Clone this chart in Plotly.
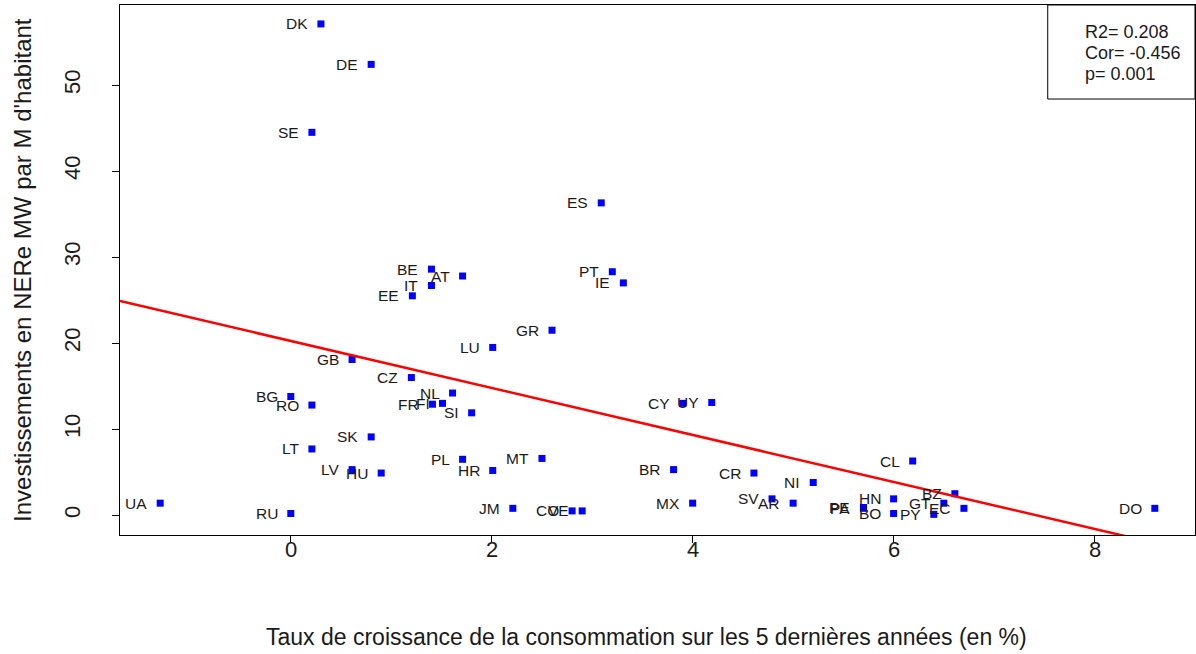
import numpy as np
import plotly.graph_objects as go

# Country codes, 5-year consumption growth (%) and renewable investment (MW per million inhabitants)
pays = ["DK", "DE", "SE", "ES", "BE", "AT", "IT", "EE", "PT", "IE",
        "GR", "LU", "GB", "CZ", "NL", "FR", "FI", "SI", "BG", "RO",
        "CY", "UY", "SK", "LT", "LV", "HU", "PL", "HR", "MT", "BR",
        "CR", "NI", "CL", "UA", "RU", "JM", "CO", "VE", "MX", "SV",
        "AR", "PE", "PA", "HN", "BO", "PY", "GT", "BZ", "EC", "DO"]
croissance = [0.30, 0.80, 0.21, 3.09, 1.40, 1.71, 1.40, 1.21, 3.20, 3.31,
              2.60, 2.01, 0.61, 1.20, 1.61, 1.41, 1.51, 1.80, 0.00, 0.21,
              3.90, 4.19, 0.80, 0.21, 0.61, 0.90, 1.71, 2.01, 2.50, 3.81,
              4.61, 5.20, 6.19, -1.30, 0.00, 2.21, 2.80, 2.90, 4.00, 4.79,
              5.00, 5.70, 5.70, 6.00, 6.00, 6.40, 6.50, 6.61, 6.70, 8.60]
investissement = [57.1, 52.4, 44.5, 36.3, 28.6, 27.8, 26.7, 25.5, 28.3, 27.0,
                  21.5, 19.5, 18.1, 16.0, 14.2, 12.9, 13.0, 11.9, 13.8, 12.8,
                  13.0, 13.1, 9.1, 7.7, 5.3, 4.9, 6.5, 5.2, 6.6, 5.3,
                  4.9, 3.8, 6.3, 1.4, 0.2, 0.8, 0.5, 0.5, 1.4, 1.9,
                  1.4, 0.9, 0.8, 1.9, 0.2, 0.1, 1.4, 2.5, 0.8, 0.8]
x_ticks = [0, 2, 4, 6, 8]
y_ticks = [0, 10, 20, 30, 40, 50]
stats = ["R2= 0.208", "Cor= -0.456", "p= 0.001"]

x_range = [-1.70, 9.0]
y_range = [-2.3, 59.3]

FONT = "Liberation Sans, Arial, sans-serif"
INK = "#1a1a1a"

# Least-squares regression line, drawn across the whole x range
pente, origine = np.polyfit(croissance, investissement, 1)
x_fit = np.array(x_range)
y_fit = origine + pente * x_fit

fig = go.Figure()
fig.add_trace(go.Scatter(
    x=croissance, y=investissement, mode="markers",
    marker=dict(symbol="square", size=7, color="#0000ff", line=dict(width=0)),
    showlegend=False,
))
fig.add_trace(go.Scatter(
    x=x_fit, y=y_fit, mode="lines",
    line=dict(color="#ff0000", width=2.5), showlegend=False,
))

# Country labels placed to the left of each point
for code, xv, yv in zip(pays, croissance, investissement):
    fig.add_annotation(x=xv, y=yv, text=code, showarrow=False,
                       xanchor="right", yanchor="middle", xshift=-11,
                       font=dict(family=FONT, size=15.5, color=INK))

axis_common = dict(
    showgrid=False, zeroline=False, showline=True, mirror=True,
    linecolor="#000000", linewidth=1, ticks="outside", ticklen=7,
    tickcolor="#000000",
    tickfont=dict(family=FONT, size=22, color=INK),
)
fig.update_xaxes(range=x_range, tickvals=x_ticks, showticklabels=False, **axis_common)
fig.update_yaxes(range=y_range, tickvals=y_ticks, tickangle=-90,
                 ticklabelstandoff=23, **axis_common)

# x tick labels, set just below the tick marks
for t in x_ticks:
    fig.add_annotation(x=t, xref="x", yref="paper", y=-0.0283, text=str(t),
                       showarrow=False, xanchor="center", yanchor="middle",
                       font=dict(family=FONT, size=22, color=INK))

# Axis titles
fig.add_annotation(xref="paper", yref="paper", x=0.49, y=-0.1925,
                   text="Taux de croissance de la consommation sur les 5 dernières années (en %)",
                   showarrow=False, xanchor="center", yanchor="middle",
                   font=dict(family=FONT, size=23, color=INK))
fig.add_annotation(xref="paper", yref="paper", x=-0.0912, y=0.5,
                   text="Investissements en NERe MW par M d'habitant", textangle=-90,
                   showarrow=False, xanchor="center", yanchor="middle",
                   font=dict(family=FONT, size=24, color=INK))

# Statistics box in the top-right corner
fig.add_shape(type="rect", xref="paper", yref="paper", x0=0.863, x1=1.0, y0=0.8226, y1=1.0,
              line=dict(color="#000000", width=1), fillcolor="#ffffff", layer="above")
for i, ligne in enumerate(stats):
    fig.add_annotation(xref="paper", yref="paper", x=0.8958, y=0.949 - i * 0.0396,
                       text=ligne, showarrow=False, xanchor="left", yanchor="middle",
                       font=dict(family=FONT, size=18, color=INK))

fig.update_layout(
    width=1196, height=654,
    margin=dict(l=120, r=1, t=5, b=119),
    plot_bgcolor="#ffffff", paper_bgcolor="#ffffff",
)
fig.write_html("out.html")
